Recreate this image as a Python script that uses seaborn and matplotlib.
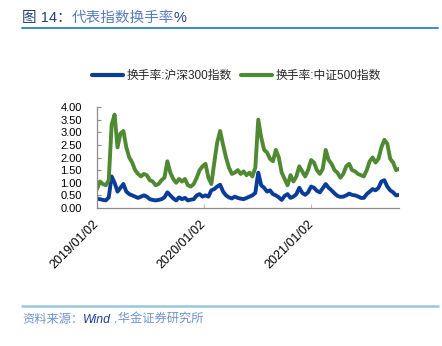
import matplotlib
matplotlib.use("Agg")
import matplotlib.pyplot as plt
import matplotlib.dates as mdates
from matplotlib.lines import Line2D
from matplotlib.text import Annotation
import pandas as pd
import seaborn as sns

# Turnover rate (%), sampled every 10 calendar days
start_date = "2019-01-02"
n_points = 104
hs300 = [0.37, 0.35, 0.32, 0.30, 0.42, 1.25, 1.00, 0.65, 0.80, 0.95,
         0.65, 0.55, 0.50, 0.45, 0.40, 0.45, 0.50, 0.45, 0.35, 0.32,
         0.30, 0.32, 0.35, 0.42, 0.62, 0.50, 0.38, 0.30, 0.42, 0.35,
         0.40, 0.30, 0.33, 0.35, 0.50, 0.55, 0.45, 0.50, 0.45, 0.70,
         0.75, 0.85, 0.92, 0.65, 0.50, 0.42, 0.38, 0.45, 0.40, 0.37,
         0.35, 0.40, 0.45, 0.50, 0.60, 1.40, 0.90, 0.80, 0.65, 0.70,
         0.55, 0.50, 0.42, 0.32, 0.48, 0.55, 0.40, 0.45, 0.55, 0.80,
         0.60, 0.52, 0.62, 0.85, 0.80, 0.68, 0.62, 0.78, 0.95, 0.80,
         0.70, 0.58, 0.48, 0.44, 0.45, 0.50, 0.57, 0.52, 0.50, 0.46,
         0.40, 0.40, 0.55, 0.65, 0.75, 0.70, 0.80, 1.05, 1.10, 0.85,
         0.70, 0.62, 0.50, 0.52]
csi500 = [0.75, 1.05, 0.95, 0.90, 1.10, 3.30, 3.70, 2.40, 2.95, 3.05,
          2.40, 2.00, 1.80, 1.50, 1.35, 1.25, 1.35, 1.30, 1.10, 1.05,
          0.90, 0.95, 1.10, 1.20, 1.85, 1.40, 1.15, 1.00, 1.15, 1.05,
          1.15, 0.90, 0.85, 0.95, 1.20, 1.50, 1.65, 1.75, 1.20, 0.95,
          1.80, 2.60, 3.05, 2.50, 2.00, 1.60, 1.35, 1.40, 1.50, 1.35,
          1.45, 1.30, 1.40, 1.25, 1.60, 3.50, 2.80, 2.30, 2.20, 1.95,
          1.85, 2.30, 2.00, 1.40, 1.15, 0.90, 1.30, 1.05, 1.25, 1.65,
          1.45, 1.25, 1.50, 1.90, 1.80, 1.50, 1.35, 1.55, 2.30, 1.90,
          1.75, 1.50, 1.40, 1.20, 1.35, 1.65, 1.75, 1.50, 1.45, 1.35,
          1.30, 1.25, 1.50, 1.85, 2.00, 1.80, 1.95, 2.40, 2.70, 2.55,
          1.95, 1.80, 1.50, 1.55]
series_names = ["换手率:沪深300指数", "换手率:中证500指数"]
series_colors = ["#0A3D97", "#4F8A33"]
tick_dates = ["2019-01-02", "2020-01-02", "2021-01-02"]
y_ticks = [0.0, 0.5, 1.0, 1.5, 2.0, 2.5, 3.0, 3.5, 4.0]

dates = pd.date_range(start_date, periods=n_points, freq="10D")
df = pd.concat([
    pd.DataFrame({"date": dates, "value": hs300, "series": series_names[0]}),
    pd.DataFrame({"date": dates, "value": csi500, "series": series_names[1]}),
])

sns.set_theme(style="white")
plt.rcParams["font.family"] = ["Liberation Sans", "Noto Sans CJK SC", "DejaVu Sans"]

fig = plt.figure(figsize=(4.42, 3.46), dpi=100)
ax = fig.add_axes([97 / 442, 1 - 208 / 346, 302 / 442, 101 / 346])

sns.lineplot(data=df, x="date", y="value", hue="series", hue_order=series_names,
             palette=series_colors, linewidth=2.8, ax=ax, legend=False)

ax.set_xlim(dates[0], dates[-1])
ax.set_ylim(0, 4)
ax.set_yticks(y_ticks)
ax.yaxis.set_major_formatter(matplotlib.ticker.FormatStrFormatter("%.2f"))
ax.set_xticks(pd.to_datetime(tick_dates))
ax.xaxis.set_major_formatter(mdates.DateFormatter("%Y/%m/%d"))
ax.set_xlabel("")
ax.set_ylabel("")

for side in ("top", "right"):
    ax.spines[side].set_visible(False)
for side in ("left", "bottom"):
    ax.spines[side].set_color("#8C8C8C")
    ax.spines[side].set_linewidth(0.9)

ax.tick_params(axis="y", direction="in", length=3, width=0.8, color="#8C8C8C",
               labelsize=8, pad=11, labelcolor="black", left=True)
ax.tick_params(axis="x", direction="in", length=3, width=0.8, color="#BBBBBB",
               labelsize=9, pad=10, labelcolor="black", bottom=True)
for lbl in ax.get_xticklabels():
    lbl.set_rotation(45)
    lbl.set_ha("right")
    lbl.set_va("center")
    lbl.set_rotation_mode("anchor")

# Legend above the plot
handles = [Line2D([], [], color=c, linewidth=3.0) for c in series_colors]
fig.legend(handles, series_names, loc="center", bbox_to_anchor=(0.535, 1 - 76 / 346),
           ncol=2, frameon=False, fontsize=8.5, handlelength=2.7,
           handletextpad=0.3, columnspacing=0.7)

# Title and header rule
title_y = 1 - 22 / 346
t1 = fig.text(22 / 442, title_y, "图 14：", fontsize=10.5, color="#24437C", va="baseline")
t2 = Annotation("代表指数换手率", xy=(1, title_y), xycoords=(t1, "figure fraction"),
                fontsize=10.5, color="#5A7DB9", va="baseline", ha="left")
fig.add_artist(t2)
t3 = Annotation("%", xy=(1, title_y), xycoords=(t2, "figure fraction"),
                fontsize=10.5, color="#24437C", va="baseline", ha="left")
fig.add_artist(t3)
fig.add_artist(Line2D([22 / 442, 438 / 442], [1 - 28 / 346, 1 - 28 / 346],
                      transform=fig.transFigure, color="#2B83C3", linewidth=1.3))

# Footer rule and source note
fig.add_artist(Line2D([22 / 442, 438 / 442], [1 - 306 / 346, 1 - 306 / 346],
                      transform=fig.transFigure, color="#9CC5E3", linewidth=1.8))
src_y = 1 - 323 / 346
s1 = fig.text(22 / 442, src_y, "资料来源：", fontsize=8.8, color="#6F94CC",
              style="italic", va="baseline")
s2 = Annotation("Wind", xy=(1, src_y), xycoords=(s1, "figure fraction"),
                fontsize=8.8, color="#1F3F95", style="italic", va="baseline", ha="left")
fig.add_artist(s2)
s3 = Annotation(" ,华金证券研究所", xy=(1, src_y), xycoords=(s2, "figure fraction"),
                fontsize=8.8, color="#6F94CC", style="italic", va="baseline", ha="left")
fig.add_artist(s3)

fig.savefig("out.png", dpi=100)
